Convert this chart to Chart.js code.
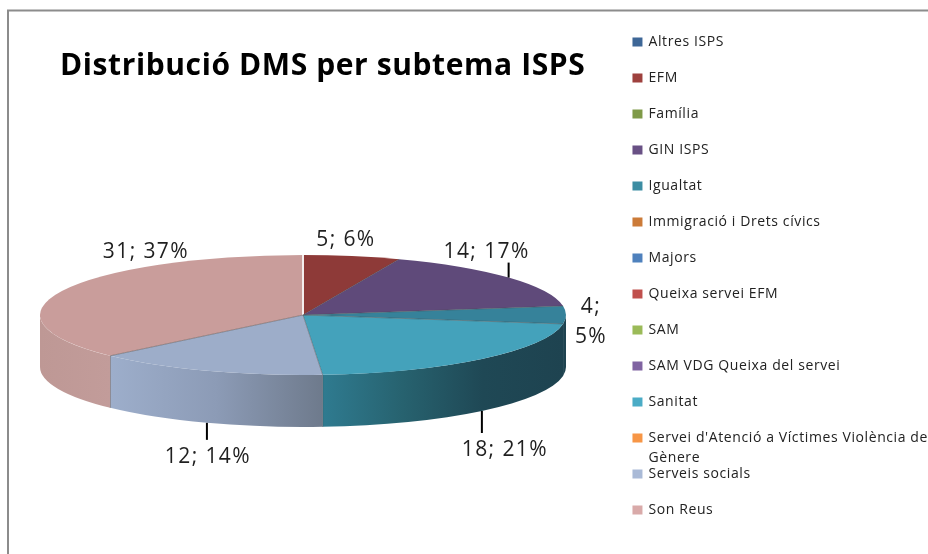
<!DOCTYPE html>
<html><head><meta charset="utf-8">
<style>html,body{margin:0;padding:0;background:#fff;overflow:hidden}canvas{display:block}</style>
<script src="https://cdn.jsdelivr.net/npm/chart.js@4"></script>
</head><body><canvas id="c" width="928" height="554"></canvas>
<script>
const titleText = 'Distribució DMS per subtema ISPS';
const categories = ['Altres ISPS','EFM','Família','GIN ISPS','Igualtat','Immigració i Drets cívics','Majors','Queixa servei EFM','SAM','SAM VDG Queixa del servei','Sanitat',"Servei d'Atenció a Víctimes Violència de Gènere",'Serveis socials','Son Reus'];
const values = [0,5,0,14,4,0,0,0,0,0,18,0,12,31];
const percents = [0,6,0,17,5,0,0,0,0,0,21,0,14,37];
const legendColors = ['#3E6797','#9E413E','#7F9A48','#695185','#3C8DA3','#CC7B38','#4F81BD','#C0504D','#9BBB59','#8064A2','#4BACC6','#F79646','#AABAD7','#D9AAA9'];
const faceColors = ['#3E6797','#8E3A38','#7F9A48','#5F4A7A','#36829A','#CC7B38','#4F81BD','#C0504D','#9BBB59','#8064A2','#44A2BB','#F79646','#9DADC9','#C99D9B'];
const wallStops = {1:['#7a302e','#7a302e'],3:['#4a3a60','#4a3a60'],4:['#1E4350','#1E4350'],10:['#2F7B90','#27626F','#1F4855','#1E4350'],12:['#9DAECB','#8C9BB6','#6E7A8C'],13:['#BE9895','#C29C9A']};
const labelPlacement = {
  1:{dx:-6,dy:-16},
  3:{dx:-22,dy:-26,lead:15},
  4:{dx:25,dy:7,wrap:true},
  10:{dx:23,dy:39,lead:22},
  12:{dx:1,dy:34,lead:17},
  13:{dx:84,dy:-39}
};
const PIE = {x:303,y:315,rx:263,ry:60,depth:52};
const LEGEND_FONT={family:'"Open Sans"',size:14};
const TEXT_SPACING='0.6px';

const pie3d = {
  id:'pie3d',
  beforeUpdate(chart){chart.ctx.letterSpacing=TEXT_SPACING;},
  beforeDraw(chart){chart.ctx.letterSpacing=TEXT_SPACING;},
  beforeDatasetsDraw(chart){
    const ctx=chart.ctx, els=chart.getDatasetMeta(0).data;
    els.forEach((el,i)=>{
      if(!values[i]) return;
      const a=Math.max(el.startAngle,0), b=Math.min(el.endAngle,Math.PI);
      if(b<=a) return;
      const xa=PIE.x+PIE.rx*Math.cos(a), xb=PIE.x+PIE.rx*Math.cos(b);
      const g=ctx.createLinearGradient(Math.min(xa,xb),0,Math.max(xa,xb),0);
      const s=wallStops[i];
      s.forEach((c,k)=>g.addColorStop(k/(s.length-1),c));
      ctx.beginPath();
      ctx.ellipse(PIE.x,PIE.y,PIE.rx,PIE.ry,0,a,b,false);
      ctx.ellipse(PIE.x,PIE.y+PIE.depth,PIE.rx,PIE.ry,0,b,a,true);
      ctx.closePath();
      ctx.fillStyle=g; ctx.fill();
      if(el.endAngle<Math.PI && el.endAngle>0 && i!==4){
        const x=PIE.x+PIE.rx*Math.cos(b), y=PIE.y+PIE.ry*Math.sin(b);
        ctx.beginPath();ctx.moveTo(x,y);ctx.lineTo(x,y+PIE.depth);
        ctx.strokeStyle='rgba(60,60,60,.6)';ctx.lineWidth=1;ctx.stroke();
      }
    });
    const e=els[0], R=e.outerRadius;
    ctx.save();
    ctx.translate(PIE.x,PIE.y);
    ctx.scale(PIE.rx/R,PIE.ry/R);
    ctx.translate(-e.x,-e.y);
  },
  afterDatasetsDraw(chart){
    const ctx=chart.ctx, els=chart.getDatasetMeta(0).data;
    ctx.restore();
    els.forEach((el,i)=>{
      if(!values[i]) return;
      ctx.beginPath();ctx.moveTo(PIE.x,PIE.y);
      ctx.lineTo(PIE.x+PIE.rx*Math.cos(el.startAngle),PIE.y+PIE.ry*Math.sin(el.startAngle));
      const first = Math.abs(el.startAngle+Math.PI/2)<1e-6;
      ctx.strokeStyle= first?'#f4eeee':'rgba(70,70,70,.45)';
      ctx.lineWidth= first?2:1;ctx.stroke();
    });
    ctx.save();
    ctx.fillStyle='#1f1f1f';ctx.strokeStyle='#000';ctx.lineWidth=2;
    ctx.font='21px "Open Sans"';ctx.letterSpacing='1.4px';ctx.textAlign='center';ctx.textBaseline='middle';
    els.forEach((el,i)=>{
      if(!values[i]) return;
      const p=labelPlacement[i], m=(el.startAngle+el.endAngle)/2;
      const ax=PIE.x+PIE.rx*Math.cos(m);
      const near=Math.sin(m)>0;
      const ay=PIE.y+PIE.ry*Math.sin(m)+(near&&!p.wrap?PIE.depth:0);
      if(p.lead){
        const dir=near?1:-1;
        ctx.beginPath();ctx.moveTo(ax,ay);ctx.lineTo(ax,ay+dir*p.lead);ctx.stroke();
      }
      const lx=ax+p.dx, ly=ay+p.dy;
      if(p.wrap){
        ctx.fillText(`${values[i]};`,lx,ly-15);
        ctx.fillText(`${percents[i]}%`,lx,ly+15);
      } else ctx.fillText(`${values[i]}; ${percents[i]}%`,lx,ly);
    });
    ctx.restore();
  },
  afterDraw(chart){
    const ctx=chart.ctx, l=chart.legend;
    const i=categories.findIndex(c=>c.endsWith('Gènere'));
    const hb=l.legendHitBoxes[i];
    ctx.save();
    ctx.font=LEGEND_FONT.size+'px '+LEGEND_FONT.family;ctx.fillStyle='#222';
    ctx.textAlign='left';ctx.textBaseline='middle';
    ctx.fillText('Gènere',hb.left+8+LEGEND_FONT.size/2,hb.top+hb.height/2+20);
    ctx.strokeStyle='#8c8c8c';ctx.lineWidth=2;
    ctx.beginPath();ctx.moveTo(8,560);ctx.lineTo(8,10.5);ctx.lineTo(930,10.5);ctx.stroke();
    ctx.restore();
  }
};

new Chart(document.getElementById('c'),{
  type:'pie',
  data:{labels:categories,datasets:[{data:values,backgroundColor:faceColors,borderWidth:0,clip:false}]},
  plugins:[pie3d],
  options:{
    responsive:false,animation:false,
    layout:{padding:{left:34,right:-10,top:13,bottom:0}},
    plugins:{
      tooltip:{enabled:false},
      title:{display:true,text:titleText,fullSize:false,color:'#000',font:{family:'"Open Sans"',size:30,weight:'bold'},padding:{top:35,bottom:10}},
      legend:{
        display:true,position:'right',align:'start',
        labels:{
          boxWidth:8,boxHeight:7,padding:22,color:'#222',font:LEGEND_FONT,
          generateLabels:()=>categories.map((c,i)=>({
            text:c.replace(/ Gènere$/,''),fillStyle:legendColors[i],strokeStyle:legendColors[i],lineWidth:2,index:i,hidden:false,fontColor:'#222'
          }))
        }
      }
    }
  }
});
</script></body></html>
